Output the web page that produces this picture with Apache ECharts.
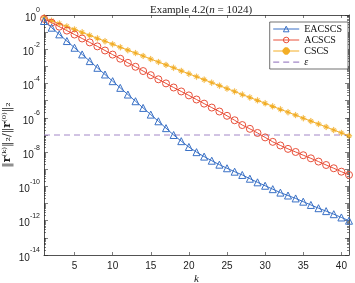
<!DOCTYPE html>
<html>
<head>
<meta charset="utf-8">
<script src="https://cdn.jsdelivr.net/npm/echarts@6/dist/echarts.min.js"></script>
<style>
  html, body { margin: 0; padding: 0; background: #fff; }
  #chart { width: 355px; height: 283px; }
</style>
</head>
<body>
<div id="chart"></div>
<script>
// iteration number k
const iterations = [1, 2, 3, 4, 5, 6, 7, 8, 9, 10, 11, 12, 13, 14, 15, 16, 17, 18, 19, 20,
  21, 22, 23, 24, 25, 26, 27, 28, 29, 30, 31, 32, 33, 34, 35, 36, 37, 38, 39, 40, 41]

// -log10 of relative residual
const eacscsNegLog = [0.35, 0.74, 1.13, 1.52, 1.91, 2.30, 2.69, 3.08, 3.47, 3.86, 4.25, 4.64, 5.03, 5.42,
  5.81, 6.20, 6.60, 7.00, 7.36, 7.70, 8.00, 8.26, 8.50, 8.73, 8.94, 9.14, 9.33, 9.55, 9.76, 9.96,
  10.16, 10.36, 10.53, 10.70, 10.89, 11.08, 11.27, 11.44, 11.62, 11.81, 12.00]
const acscsNegLog = [0.22, 0.45, 0.68, 0.91, 1.14, 1.37, 1.60, 1.83, 2.07, 2.31, 2.55, 2.79, 3.02, 3.27,
  3.51, 3.75, 3.99, 4.23, 4.46, 4.69, 4.93, 5.17, 5.40, 5.63, 5.88, 6.14, 6.42, 6.64, 6.88, 7.14,
  7.40, 7.61, 7.81, 7.99, 8.18, 8.36, 8.55, 8.75, 8.94, 9.14, 9.33]
const cscsNegLog = [0.15, 0.33, 0.50, 0.67, 0.84, 1.01, 1.19, 1.36, 1.53, 1.70, 1.88, 2.05, 2.22, 2.39,
  2.57, 2.74, 2.91, 3.08, 3.26, 3.43, 3.60, 3.77, 3.95, 4.12, 4.29, 4.46, 4.64, 4.81, 4.98, 5.15,
  5.33, 5.50, 5.67, 5.84, 6.02, 6.19, 6.36, 6.53, 6.71, 6.88, 7.05]
const epsilon = 1e-7

const xTicks = [5, 10, 15, 20, 25, 30, 35, 40]
const yLabelExps = [0, -2, -4, -6, -8, -10, -12, -14]

const BLUE = '#3a71c6'
const RED = '#e9503a'
const ORANGE = '#f3ae26'
const PURPLE = '#a388c8'
const AXIS = '#262626'

const toPairs = arr => iterations.map((k, i) => [k, Math.pow(10, -arr[i])])

// decades and 2..9 sub-ticks for the log axis
const decades = []
const subTicks = []
for (let e = 0; e >= -14; e--) {
  decades.push(Math.pow(10, e))
  if (e > -14) {
    for (let m = 2; m <= 9; m++) subTicks.push(m * Math.pow(10, e - 1))
  }
}

// MATLAB style asterisk
const asterisk = 'path://M9,0L11,0L11,20L9,20Z M0,9L20,9L20,11L0,11Z M2.9,4.3L4.3,2.9L17.1,15.7L15.7,17.1Z M15.7,2.9L17.1,4.3L4.3,17.1L2.9,15.7Z'
// dashed legend sample (tiny corner dots keep the box height)
const dashIcon = 'path://M0,0L0.01,0L0,0.01Z M0,7L0.01,7L0,6.99Z M0,3L6,3L6,4.2L0,4.2Z M10,3L16,3L16,4.2L10,4.2Z M20,3L26,3L26,4.2L20,4.2Z'

const chart = echarts.init(document.getElementById('chart'))

const yLog = (pos, ticks, len, showLabel, showLine) => ({
  type: 'log',
  logBase: 10,
  min: 1e-14,
  max: 1,
  position: pos,
  axisLine: { show: showLine, lineStyle: { color: AXIS, width: 0.8 } },
  axisTick: { show: true, inside: true, length: len, customValues: ticks, lineStyle: { color: AXIS, width: 0.6 } },
  axisLabel: {
    show: showLabel,
    customValues: yLabelExps.map(e => Math.pow(10, e)),
    margin: 4,
    formatter: v => '{b|10}{s|' + Math.round(Math.log10(v)) + '}',
    rich: {
      b: { fontSize: 10, fontFamily: 'Liberation Sans', color: '#222', lineHeight: 16, verticalAlign: 'bottom' },
      s: { fontSize: 7, fontFamily: 'Liberation Sans', color: '#222', lineHeight: 9, verticalAlign: 'top' }
    }
  },
  splitLine: { show: false }
})

const xVal = (pos, showLabel) => ({
  type: 'value',
  min: 1,
  max: 41,
  position: pos,
  axisLine: { show: true, onZero: false, lineStyle: { color: AXIS, width: 0.8 } },
  axisTick: { show: true, inside: true, length: 3, customValues: xTicks, lineStyle: { color: AXIS, width: 0.6 } },
  axisLabel: { show: showLabel, customValues: xTicks, margin: 6, fontSize: 10, fontFamily: 'Liberation Sans', color: '#222' },
  splitLine: { show: false }
})

const bottomX = xVal('bottom', true)
bottomX.name = 'k'
bottomX.nameLocation = 'middle'
bottomX.nameGap = 19
bottomX.nameMoveOverlap = false
bottomX.nameTextStyle = { fontFamily: 'Liberation Serif', fontStyle: 'italic', fontSize: 11, color: '#222' }

const leftY = yLog('left', decades, 4, true, true)
leftY.name = '{n|‖}{r|r}{n|⁽ᵏ⁾‖₂/‖}{r|r}{n|⁽⁰⁾‖₂}'
leftY.nameLocation = 'middle'
leftY.nameGap = 31
leftY.nameMoveOverlap = false
leftY.nameTextStyle = {
  rich: {
    n: { fontFamily: 'DejaVu Serif', fontSize: 11, color: '#222' },
    r: { fontFamily: 'DejaVu Serif', fontSize: 11, fontWeight: 'bold', color: '#222' }
  }
}

const option = {
  animation: false,
  backgroundColor: '#fff',
  title: {
    text: '{t|Example 4.2(}{i|n}{t| = 1024)}',
    left: 196,
    top: 0,
    textAlign: 'center',
    textStyle: {
      fontWeight: 'normal',
      rich: {
        t: { fontFamily: 'Liberation Serif', fontSize: 11, fontWeight: 'normal', color: '#222' },
        i: { fontFamily: 'Liberation Serif', fontSize: 11, fontWeight: 'normal', fontStyle: 'italic', color: '#222' }
      }
    }
  },
  grid: { left: 44, right: 6, top: 15, bottom: 28, containLabel: false, outerBoundsMode: 'none' },
  legend: {
    orient: 'vertical',
    right: 7,
    top: 22,
    itemWidth: 26,
    itemHeight: 7,
    itemGap: 1,
    padding: [2, 6, 2, 3],
    borderColor: '#333',
    borderWidth: 0.7,
    backgroundColor: '#fff',
    lineStyle: { width: 1 },
    textStyle: {
      fontFamily: 'Liberation Serif', fontSize: 10, lineHeight: 10, color: '#111',
      rich: { e: { fontFamily: 'Liberation Serif', fontStyle: 'italic', fontSize: 10, color: '#111' } }
    },
    formatter: name => name === 'ε' ? '{e|ε}' : name,
    data: [
      { name: 'EACSCS', itemStyle: { color: 'rgba(255,255,255,0)', borderColor: BLUE, borderWidth: 1 } },
      { name: 'ACSCS', itemStyle: { color: 'rgba(255,255,255,0)', borderColor: RED, borderWidth: 1 } },
      { name: 'CSCS' },
      { name: 'ε', icon: dashIcon, itemStyle: { color: PURPLE, borderWidth: 0 } }
    ]
  },
  xAxis: [bottomX, xVal('top', false)],
  yAxis: [
    leftY,
    yLog('left', subTicks, 2, false, false),
    yLog('right', decades, 4, false, true),
    yLog('right', subTicks, 2, false, false)
  ],
  series: [
    {
      name: 'EACSCS',
      type: 'line',
      data: toPairs(eacscsNegLog),
      symbol: 'triangle',
      symbolSize: 7,
      lineStyle: { color: BLUE, width: 1 },
      itemStyle: { color: 'rgba(255,255,255,0)', borderColor: BLUE, borderWidth: 1 },
      z: 4
    },
    {
      name: 'ACSCS',
      type: 'line',
      data: toPairs(acscsNegLog),
      symbol: 'circle',
      symbolSize: 7,
      lineStyle: { color: RED, width: 1 },
      itemStyle: { color: 'rgba(255,255,255,0)', borderColor: RED, borderWidth: 1 },
      z: 3
    },
    {
      name: 'CSCS',
      type: 'line',
      data: toPairs(cscsNegLog),
      symbol: asterisk,
      symbolSize: 6,
      lineStyle: { color: ORANGE, width: 1 },
      itemStyle: { color: ORANGE, borderColor: ORANGE, borderWidth: 0.3 },
      z: 2
    },
    {
      name: 'ε',
      type: 'line',
      data: [[1, epsilon], [41, epsilon]],
      symbol: 'none',
      lineStyle: { color: PURPLE, width: 1.2, type: [6, 4] },
      itemStyle: { color: PURPLE },
      z: 1
    }
  ]
}

chart.setOption(option)
</script>
</body>
</html>
